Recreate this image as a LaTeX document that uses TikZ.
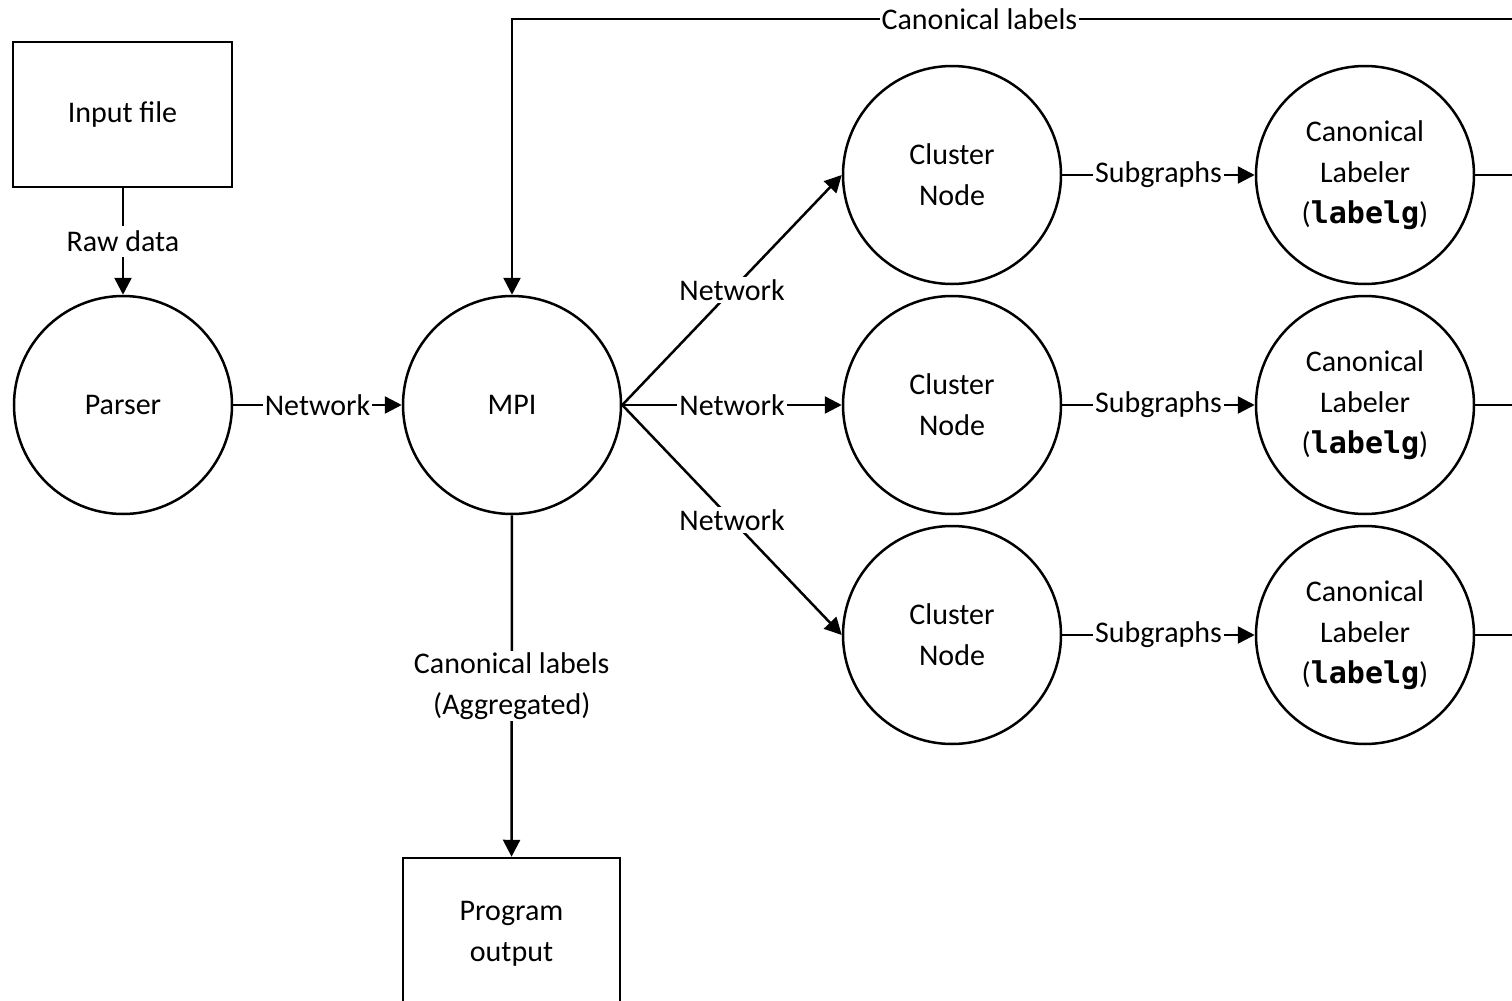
\documentclass[tikz,border=0pt]{standalone}
\usepackage{fontspec}
\setmainfont{Carlito}
\setmonofont{DejaVu Sans Mono}
\usetikzlibrary{arrows.meta}
\begin{document}
\begin{tikzpicture}[x=0.5pt,y=-0.5pt,
  font=\fontsize{15}{20.5}\selectfont,
  every node/.style={align=center},
  proc/.style={circle, draw, line width=1.25pt, minimum size=109pt, inner sep=0pt},
  store/.style={rectangle, draw, line width=1.25pt, inner sep=0pt},
  flow/.style={line width=1.25pt, -{Triangle[length=8.5pt,width=8.5pt]}},
  link/.style={line width=1.25pt},
  tag/.style={fill=white, inner sep=1pt}
]
\path[use as bounding box, clip] (0,0) rectangle (1512,1001);

% stores
\node[store, minimum width=109.5pt, minimum height=72.5pt] (input) at (122.5,114.5) {Input file};
\node[store, minimum width=108.5pt, minimum height=76pt] (out) at (511.5,934) {Program\\output};

% processes
\node[proc] (parser) at (123,405) {Parser};
\node[proc] (mpi) at (512,405) {MPI};
\node[proc] (c1) at (952,175) {Cluster\\Node};
\node[proc] (c2) at (952,405) {Cluster\\Node};
\node[proc] (c3) at (952,635) {Cluster\\Node};
\node[proc] (l1) at (1365,175) {Canonical\\Labeler\\(\texttt{\textbf{labelg}})};
\node[proc] (l2) at (1365,405) {Canonical\\Labeler\\(\texttt{\textbf{labelg}})};
\node[proc] (l3) at (1365,635) {Canonical\\Labeler\\(\texttt{\textbf{labelg}})};

% loose ends at the right edge
\coordinate (e1) at (1515,175);
\coordinate (e2) at (1515,405);
\coordinate (e3) at (1515,635);
\coordinate (topR) at (1515,19);
\coordinate (topL) at (512,19);

% flows
\draw[flow] (input.south -| parser.north) -- node[tag, inner sep=2.5pt]{Raw data} (parser.north);
\draw[flow] (parser) -- node[tag]{Network} (mpi);
\draw[flow] (mpi.east) -- node[tag]{Network} (c1.west);
\draw[flow] (mpi.east) -- node[tag]{Network} (c2.west);
\draw[flow] (mpi.east) -- node[tag]{Network} (c3.west);
\draw[flow] (mpi) -- node[tag]{Canonical labels\\(Aggregated)} (out);
\draw[flow] (c1) -- node[tag]{Subgraphs} (l1);
\draw[flow] (c2) -- node[tag]{Subgraphs} (l2);
\draw[flow] (c3) -- node[tag]{Subgraphs} (l3);
\draw[link] (l1) -- (e1);
\draw[link] (l2) -- (e2);
\draw[link] (l3) -- (e3);
\draw[flow] (topR) -- node[tag, pos=0.534]{Canonical labels} (topL) -- (mpi);
\end{tikzpicture}
\end{document}
